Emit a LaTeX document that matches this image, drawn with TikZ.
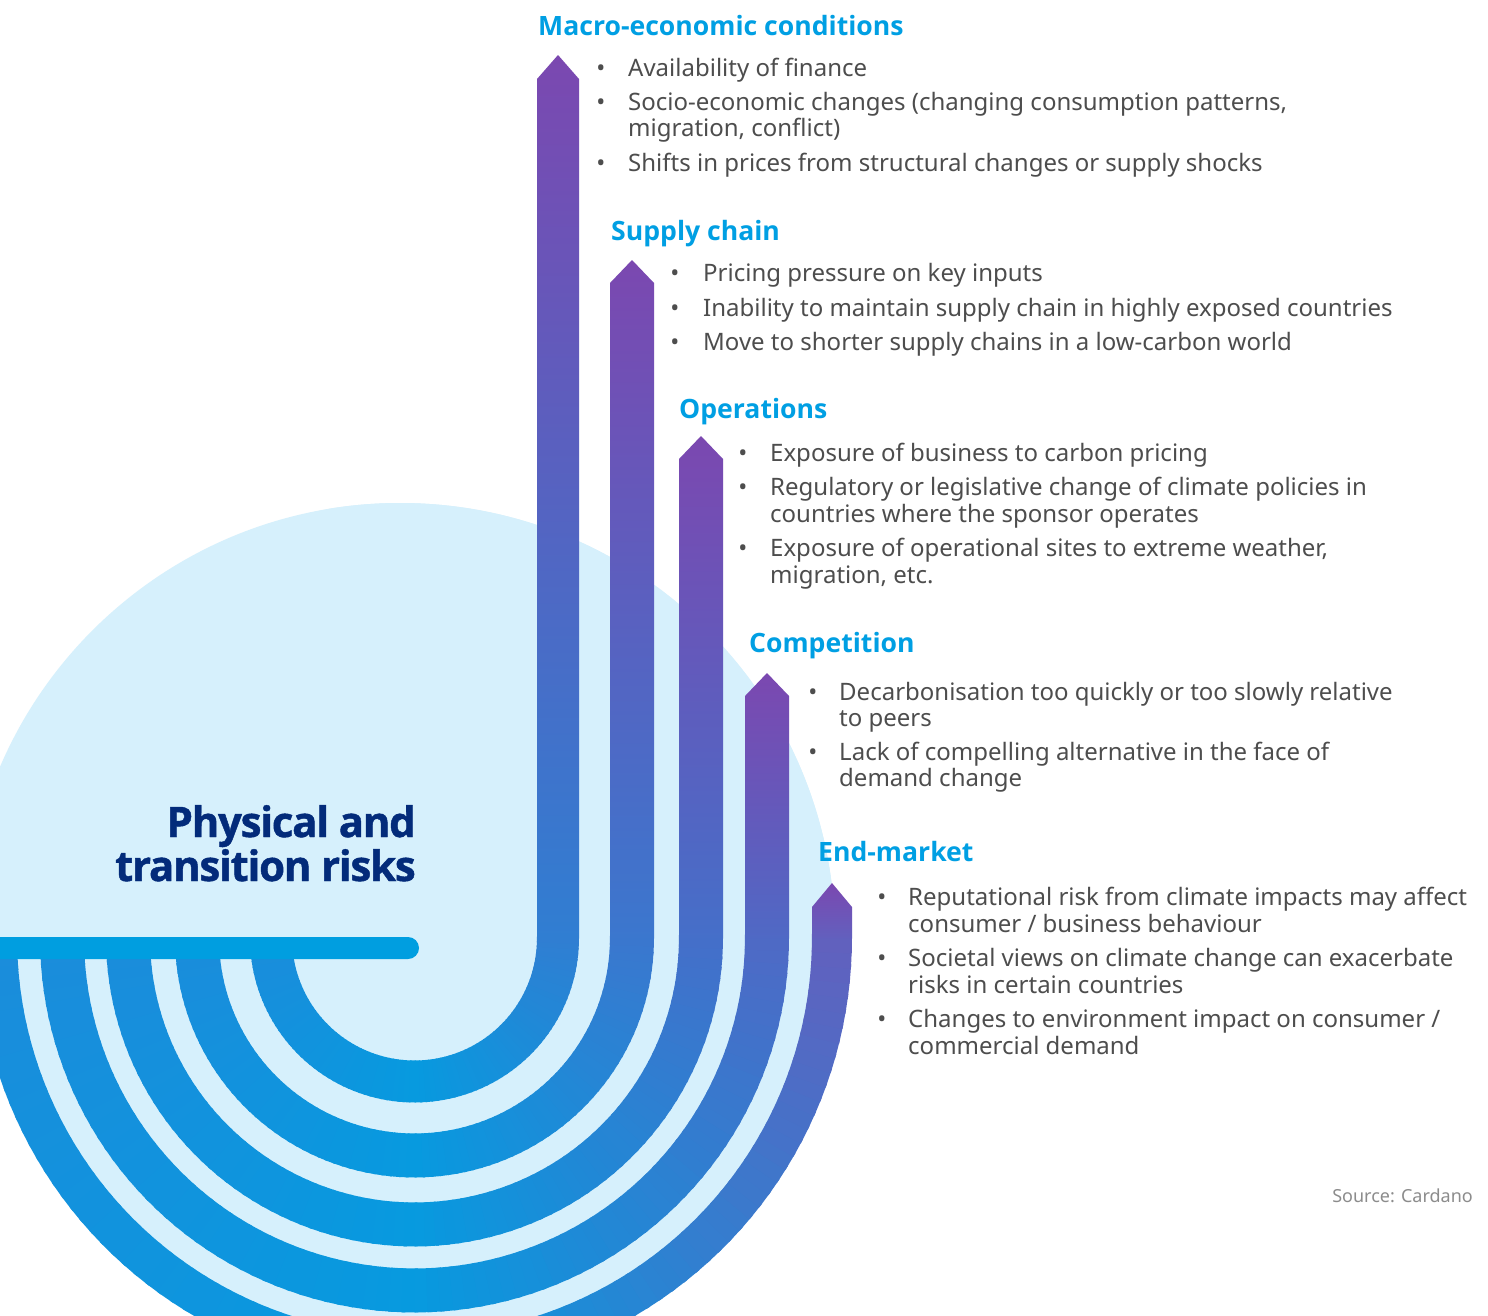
\documentclass[tikz,border=0pt]{standalone}
\usepackage{fontspec}
\setmainfont{Noto Sans}
\newfontfamily\headsans{Open Sans}
\newfontfamily\titlesans{Open Sans}[BoldFeatures={FakeBold=1,LetterSpace=-3}]

\definecolor{disc}{HTML}{D6F0FC}
\definecolor{barblue}{HTML}{009EE0}
\definecolor{hdrblue}{HTML}{009FE3}
\definecolor{bodygray}{HTML}{4D4D4D}
\definecolor{titlenavy}{HTML}{032B7A}
\definecolor{srcgray}{HTML}{8C8C8C}
% band colours: left end, bottom, tip, and the colour where each arc meets its column
\definecolor{cL}{HTML}{1B8CDB}
\definecolor{cB}{HTML}{079ADF}
\definecolor{purp}{HTML}{7B48B0}
\definecolor{endA}{HTML}{307ED2}
\definecolor{endB}{HTML}{3B77CE}
\definecolor{endC}{HTML}{456FC9}
\definecolor{endD}{HTML}{4F69C5}
\definecolor{endE}{HTML}{6260BE}

\tikzset{
  hdr/.style={anchor=base west, inner sep=0pt, text=hdrblue,
    font=\headsans\fontsize{26.6}{30}\selectfont\bfseries},
  itm/.style={anchor=base west, inner sep=0pt, text=bodygray,
    font=\fontsize{24}{28}\selectfont},
  dot/.style={anchor=base, inner sep=0pt, text=bodygray,
    font=\fontsize{24}{28}\selectfont},
  ttl/.style={anchor=base east, inner sep=0pt, text=titlenavy,
    font=\titlesans\fontsize{42}{50}\selectfont\bfseries},
}

\begin{document}
\begin{tikzpicture}[x=1pt,y=-1pt]
\useasboundingbox (0,0) rectangle (1488,1315);
\fill[white] (0,0) rectangle (1488,1315);

% pale disc behind the bands (its lower part stops at the outermost band)
\begin{scope}
  \clip (-5,-5) rectangle (1493,938);
  \fill[disc] (400,938) circle[radius=435];
\end{scope}
\begin{scope}
  \clip (414.5,938) circle[radius=437.5];
  \fill[disc] (400,938) circle[radius=435];
\end{scope}

% five concentric bands: a half ring below the centre, then an arrow upwards
\foreach \ri/\ro/\tipy/\shy/\cr in {
    122.5/164.5/55/79/endA,
    195.5/239.5/260/283/endB,
    264.5/308.5/436/459/endC,
    330.5/374.5/673/696/endD,
    397.5/437.5/883/907/endE}{
  \foreach \k in {0,...,89}{
    \pgfmathsetmacro\ta{180-2*\k}
    \pgfmathsetmacro\tb{\ta-2.6}
    \pgfmathsetmacro\tt{(\k+0.5)/90}
    \pgfmathtruncatemacro\pa{min(100,round(200*\tt))}
    \pgfmathtruncatemacro\pb{max(0,round(200*\tt-100))}
    \colorlet{segA}{cB!\pa!cL}
    \colorlet{segB}{\cr!\pb!segA}
    \fill[segB] ({414.5+\ri*cos(\ta)},{938+\ri*sin(\ta)})
      -- ({414.5+\ri*cos(\tb)},{938+\ri*sin(\tb)})
      -- ({414.5+\ro*cos(\tb)},{938+\ro*sin(\tb)})
      -- ({414.5+\ro*cos(\ta)},{938+\ro*sin(\ta)}) -- cycle;
  }
  \shade[top color=purp, bottom color=\cr]
    ({414.5+\ri},938.6) -- ({414.5+\ri},\shy) -- ({414.5+(\ri+\ro)/2},\tipy)
    -- ({414.5+\ro},\shy) -- ({414.5+\ro},938.6) -- cycle;
}

% horizontal bar
\fill[barblue, rounded corners=11pt] (-30,937) rectangle (419,959);

% title
\node[ttl] (t1) at (416,837) {Physical and};
\node[ttl] (t2) at (416,881) {transition risks};

% Macro-economic conditions
\node[hdr] (hm) at (538,35) {Macro-economic conditions};
\node[dot] (bm1) at (601,76) {•};
\node[itm] (m1) at (628,76) {Availability of finance};
\node[dot] (bm2) at (601,110) {•};
\node[itm] (m2a) at (628,110) {Socio-economic changes (changing consumption patterns,};
\node[itm] (m2b) at (628,136) {migration, conflict)};
\node[dot] (bm3) at (601,171) {•};
\node[itm] (m3) at (628,171) {Shifts in prices from structural changes or supply shocks};

% Supply chain
\node[hdr] (hs) at (611,240) {Supply chain};
\node[dot] (bs1) at (675,281) {•};
\node[itm] (s1) at (703,281) {Pricing pressure on key inputs};
\node[dot] (bs2) at (675,316) {•};
\node[itm] (s2) at (703,316) {Inability to maintain supply chain in highly exposed countries};
\node[dot] (bs3) at (675,350) {•};
\node[itm] (s3) at (703,350) {Move to shorter supply chains in a low-carbon world};

% Operations
\node[hdr] (ho) at (679,418) {Operations};
\node[dot] (bo1) at (743,461) {•};
\node[itm] (o1) at (770,461) {Exposure of business to carbon pricing};
\node[dot] (bo2) at (743,495) {•};
\node[itm] (o2a) at (770,495) {Regulatory or legislative change of climate policies in};
\node[itm] (o2b) at (770,522) {countries where the sponsor operates};
\node[dot] (bo3) at (743,556) {•};
\node[itm] (o3a) at (770,556) {Exposure of operational sites to extreme weather,};
\node[itm] (o3b) at (770,583) {migration, etc.};

% Competition
\node[hdr] (hc) at (749,652) {Competition};
\node[dot] (bc1) at (813,700) {•};
\node[itm] (c1a) at (839,700) {Decarbonisation too quickly or too slowly relative};
\node[itm] (c1b) at (839,726) {to peers};
\node[dot] (bc2) at (813,760) {•};
\node[itm] (c2a) at (839,760) {Lack of compelling alternative in the face of};
\node[itm] (c2b) at (839,786) {demand change};

% End-market
\node[hdr] (he) at (818,861) {End-market};
\node[dot] (be1) at (882,905) {•};
\node[itm] (e1a) at (908,905) {Reputational risk from climate impacts may affect};
\node[itm] (e1b) at (908,932) {consumer / business behaviour};
\node[dot] (be2) at (882,966) {•};
\node[itm] (e2a) at (908,966) {Societal views on climate change can exacerbate};
\node[itm] (e2b) at (908,993) {risks in certain countries};
\node[dot] (be3) at (882,1027) {•};
\node[itm] (e3a) at (908,1027) {Changes to environment impact on consumer /};
\node[itm] (e3b) at (908,1054) {commercial demand};

% source line
\node[anchor=base east, inner sep=0pt, text=srcgray,
  font=\fontsize{18}{20}\selectfont] (src) at (1473,1202) {Source: Cardano};
\end{tikzpicture}
\end{document}
